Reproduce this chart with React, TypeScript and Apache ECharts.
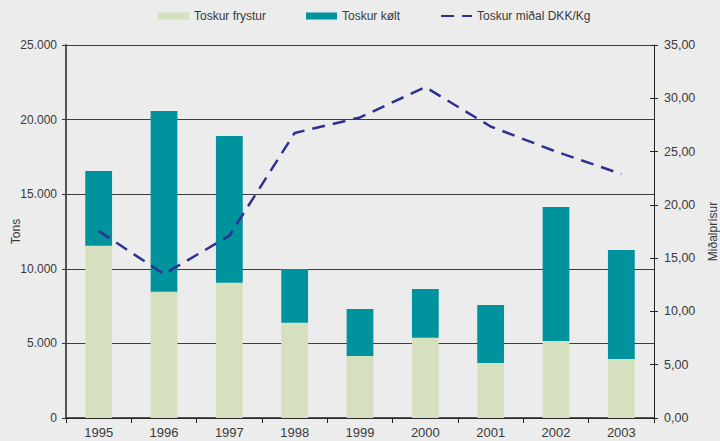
import React, { useEffect, useRef } from "react";
import * as echarts from "echarts";

const years = ["1995", "1996", "1997", "1998", "1999", "2000", "2001", "2002", "2003"];
const frystur = [11550, 8470, 9070, 6390, 4150, 5380, 3690, 5160, 3950];
const koltTotal = [16560, 20580, 18900, 9990, 7310, 8650, 7570, 14140, 11260];
const kolt = koltTotal.map((t, i) => t - frystur[i]);
const prices = [17.55, 13.5, 17.1, 26.75, 28.2, 31.05, 27.35, 25.0, 22.9];

const textColor = "#3a3a3a";
const font = "'Liberation Sans', Arial, sans-serif";

export default function App() {
  const ref = useRef<HTMLDivElement>(null);
  useEffect(() => {
    document.body.style.margin = "0";
    const chart = echarts.init(ref.current!, null, { renderer: "svg" });
    chart.setOption({
      animation: false,
      backgroundColor: "#ececec",
      textStyle: { fontFamily: font, color: textColor },
      legend: {
        left: 158,
        top: 10,
        padding: 0,
        itemWidth: 31,
        itemHeight: 7,
        itemGap: 40,
        textStyle: { fontSize: 12, color: textColor, fontFamily: font },
        data: [
          { name: "Toskur frystur", icon: "rect" },
          { name: "Toskur kølt", icon: "rect" },
          { name: "Toskur miðal DKK/Kg", itemStyle: { opacity: 0 } },
        ],
      },
      grid: { left: 66, right: 66, top: 45, bottom: 23, containLabel: false, outerBoundsMode: "none" },
      xAxis: {
        type: "category",
        data: years,
        boundaryGap: true,
        axisLine: { lineStyle: { color: "#222", width: 1.5 } },
        axisTick: { show: true, length: 5, alignWithLabel: false, lineStyle: { color: "#222" } },
        axisLabel: { fontSize: 13, color: textColor, margin: 8, fontFamily: font },
      },
      yAxis: [
        {
          type: "value",
          min: 0,
          max: 25000,
          interval: 5000,
          name: "Tons",
          nameLocation: "middle",
          nameGap: 44,
          nameMoveOverlap: false,
          nameTextStyle: { fontSize: 12, color: textColor, fontFamily: font },
          axisLine: { show: true, lineStyle: { color: "#555", width: 2 } },
          axisTick: { show: true, length: 4, lineStyle: { color: "#333" } },
          axisLabel: {
            fontSize: 12,
            color: textColor,
            margin: 9,
            fontFamily: font,
            formatter: (v: number) => (v === 0 ? "0" : v.toString().replace(/\B(?=(\d{3})+(?!\d))/g, ".")),
          },
          splitLine: { show: true, lineStyle: { color: "#3c3c3c", width: 1 } },
        },
        {
          type: "value",
          position: "right",
          min: 0,
          max: 35,
          interval: 5,
          name: "Miðalprísur",
          nameLocation: "middle",
          nameRotate: 90,
          nameGap: 53,
          nameMoveOverlap: false,
          nameTextStyle: { fontSize: 12, color: textColor, fontFamily: font },
          axisLine: { show: true, lineStyle: { color: "#222", width: 1 } },
          axisTick: { show: true, length: 4, lineStyle: { color: "#222" } },
          axisLabel: {
            fontSize: 12.5,
            color: textColor,
            margin: 10,
            fontFamily: font,
            formatter: (v: number) => v.toFixed(2).replace(".", ","),
          },
          splitLine: { show: false },
        },
        {
          type: "value",
          position: "right",
          min: 0,
          max: 35,
          interval: 5,
          axisLine: { show: false },
          axisTick: { show: true, inside: true, length: 4, lineStyle: { color: "#222" } },
          axisLabel: { show: false },
          splitLine: { show: false },
        },
      ],
      series: [
        {
          name: "Toskur frystur",
          type: "bar",
          stack: "t",
          data: frystur,
          barWidth: "41%",
          itemStyle: { color: "#d5e0be" },
        },
        {
          name: "Toskur kølt",
          type: "bar",
          stack: "t",
          data: kolt,
          barWidth: "41%",
          itemStyle: { color: "#00939d" },
        },
        {
          name: "Toskur miðal DKK/Kg",
          type: "line",
          yAxisIndex: 1,
          data: prices,
          symbol: "none",
          showSymbol: false,
          z: 5,
          lineStyle: { color: "#2e3192", width: 2.5, type: [13, 8] },
          itemStyle: { color: "#2e3192" },
        },
      ],
    });
    return () => chart.dispose();
  }, []);
  return (
    <div
      ref={ref}
      style={{ position: "absolute", left: 0, top: 0, width: 720, height: 441, background: "#ececec" }}
    />
  );
}
